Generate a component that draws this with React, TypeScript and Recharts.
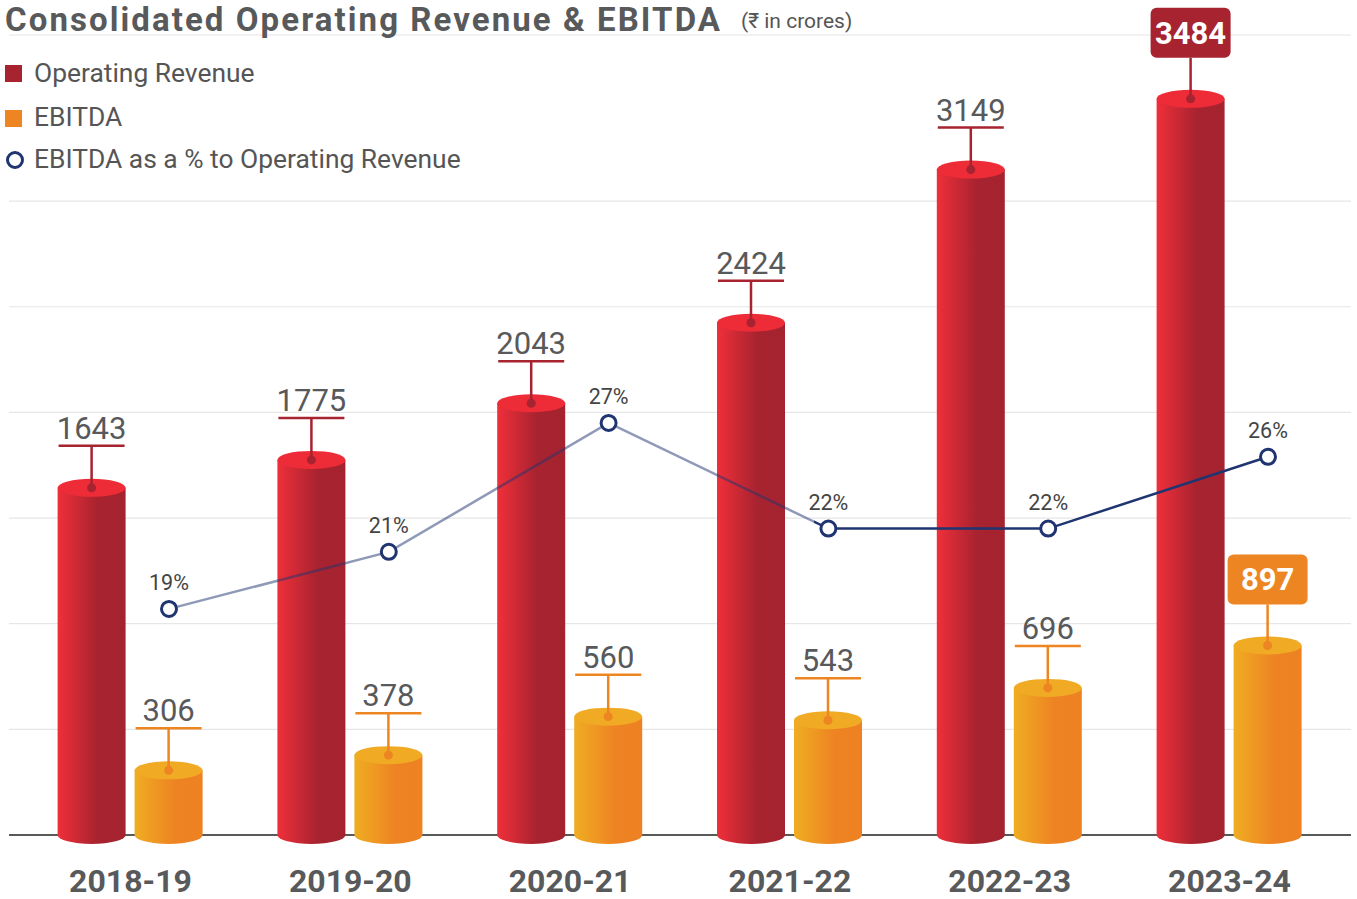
import React from 'react'
import {
  ComposedChart,
  Bar,
  Line,
  XAxis,
  YAxis,
  CartesianGrid,
  LabelList,
} from 'recharts'

const years = ['2018-19', '2019-20', '2020-21', '2021-22', '2022-23', '2023-24']
const revenue = [1643, 1775, 2043, 2424, 3149, 3484]
const ebitda = [306, 378, 560, 543, 696, 897]
const marginPct = [18.6, 21.3, 27.4, 22.4, 22.4, 25.8]
const marginLabels = ['19%', '21%', '27%', '22%', '22%', '26%']
const revenueTicks = [0, 500, 1000, 1500, 2000, 2500, 3000]

const data = years.map((year, i) => ({
  year,
  revenue: revenue[i],
  ebitda: ebitda[i],
  margin: marginPct[i],
  marginLabel: marginLabels[i],
}))

const FONT = 'Roboto, "Noto Sans", sans-serif'
const RED = '#a6232f'
const ORANGE = '#ee8523'
const NAVY = '#1f3470'
const TEXT = '#58595b'

// cylinder: body + rounded bottom + flat-colour top ellipse
const Cylinder = (props: any) => {
  const { x, y, width, height, gradId, topColor } = props
  if (!width || height == null) return null
  const rx = width / 2
  const ry = 9
  const bottom = y + height
  const d = `M${x},${y} L${x},${bottom} A${rx},${ry} 0 0 0 ${x + width},${bottom} L${x + width},${y} Z`
  return (
    <g>
      <path d={d} fill={`url(#${gradId})`} />
      <ellipse cx={x + rx} cy={y} rx={rx} ry={ry} fill={topColor} />
    </g>
  )
}

const makeValueLabel = (color: string, highlight: number) => (props: any) => {
  const { x, y, width, value } = props
  const cx = x + width / 2
  if (value === highlight) {
    return (
      <g>
        <line x1={cx} y1={y} x2={cx} y2={y - 41} stroke={color} strokeWidth={2.5} />
        <circle cx={cx} cy={y} r={4.5} fill={color} />
        <rect x={cx - 40} y={y - 91} width={80} height={50} rx={6} fill={color} />
        <text
          x={cx}
          y={y - 55}
          textAnchor="middle"
          fontFamily={FONT}
          fontWeight={700}
          fontSize={31}
          fill="#fff"
        >
          {value}
        </text>
      </g>
    )
  }
  return (
    <g>
      <line x1={cx} y1={y} x2={cx} y2={y - 42} stroke={color} strokeWidth={2.5} />
      <line x1={x + 1} y1={y - 42} x2={x + width - 1} y2={y - 42} stroke={color} strokeWidth={2.5} />
      <circle cx={cx} cy={y} r={4.5} fill={color} />
      <text
        x={cx}
        y={y - 49}
        textAnchor="middle"
        fontFamily={FONT}
        fontSize={31}
        fill={TEXT}
      >
        {value}
      </text>
    </g>
  )
}

const PctLabel = (props: any) => {
  const { x, y, value } = props
  return (
    <text x={x} y={y - 19} textAnchor="middle" fontFamily={FONT} fontSize={21.5} fill="#444">
      {value}
    </text>
  )
}

const YearTick = (props: any) => {
  const { x, y, payload } = props
  return (
    <text
      x={x}
      y={y + 55}
      textAnchor="middle"
      fontFamily={FONT}
      fontWeight={700}
      fontSize={32}
      fill={TEXT}
    >
      {payload.value}
    </text>
  )
}

// grid row at 0 doubles as the dark baseline, so the cylinders sit on top of it
const GridRow = (p: any) => {
  const base = p.y1 > 830
  return (
    <line
      x1={p.x1}
      y1={p.y1}
      x2={p.x2}
      y2={p.y2}
      stroke={base ? '#222' : '#e6e6e6'}
      strokeWidth={base ? 1.5 : 1.2}
    />
  )
}

export default function App() {
  return (
    <div style={{ position: 'absolute', left: 0, top: 0, width: 1357, height: 899, background: '#fff' }}>
      <ComposedChart
        width={1357}
        height={899}
        data={data}
        margin={{ top: 35, right: 6, bottom: 0, left: 9 }}
        barSize={68}
        barGap={9}
      >
        <defs>
          <linearGradient id="redGrad" x1="0" y1="0" x2="1" y2="0">
            <stop offset="0%" stopColor="#ef2f3a" />
            <stop offset="60%" stopColor="#a6232f" />
            <stop offset="100%" stopColor="#a5222f" />
          </linearGradient>
          <linearGradient id="orangeGrad" x1="0" y1="0" x2="1" y2="0">
            <stop offset="0%" stopColor="#efad22" />
            <stop offset="60%" stopColor="#ee8323" />
            <stop offset="100%" stopColor="#ee8223" />
          </linearGradient>
          <linearGradient id="lineGrad" gradientUnits="userSpaceOnUse" x1="0" y1="0" x2="1357" y2="0">
            <stop offset="0.6" stopColor={NAVY} stopOpacity={0.5} />
            <stop offset="0.6" stopColor={NAVY} stopOpacity={1} />
          </linearGradient>
        </defs>
        <CartesianGrid vertical={false} horizontal={(p: any) => <GridRow key={p.key ?? p.y1} {...p} />} />
        <XAxis
          dataKey="year"
          padding={{ left: 11.6, right: 11.6 }}
          axisLine={false}
          tickLine={false}
          tickSize={0}
          tick={<YearTick />}
          height={64}
          interval={0}
        />
        <XAxis xAxisId="pct" dataKey="year" hide padding={{ left: 50.1, right: -26.9 }} />
        <YAxis hide domain={[0, 3786]} ticks={revenueTicks} />
        <YAxis yAxisId="pct" hide orientation="right" domain={[7.9, 45.76]} />
        <Bar
          dataKey="revenue"
          isAnimationActive={false}
          shape={(p: any) => <Cylinder {...p} gradId="redGrad" topColor="#ee2c38" />}
        >
          <LabelList dataKey="revenue" content={makeValueLabel(RED, revenue[revenue.length - 1])} />
        </Bar>
        <Bar
          dataKey="ebitda"
          isAnimationActive={false}
          shape={(p: any) => <Cylinder {...p} gradId="orangeGrad" topColor="#f0aa23" />}
        >
          <LabelList dataKey="ebitda" content={makeValueLabel(ORANGE, ebitda[ebitda.length - 1])} />
        </Bar>
        <Line
          xAxisId="pct"
          yAxisId="pct"
          dataKey="margin"
          stroke="url(#lineGrad)"
          strokeWidth={2.5}
          dot={{ r: 7.5, stroke: NAVY, strokeWidth: 3, fill: '#fff', fillOpacity: 1 }}
          isAnimationActive={false}
        >
          <LabelList dataKey="marginLabel" content={<PctLabel />} />
        </Line>
      </ComposedChart>
      <svg width={1357} height={190} style={{ position: 'absolute', left: 0, top: 0 }}>
        <text
          x={5}
          y={31}
          fontFamily={FONT}
          fontWeight={700}
          fontSize={33}
          fill={TEXT}
          textLength={715}
          lengthAdjust="spacing"
        >
          Consolidated Operating Revenue &amp; EBITDA
        </text>
        <text x={741} y={28} fontFamily={FONT} fontSize={21} fill="#555">
          (₹ in crores)
        </text>
        <rect x={5} y={65} width={17} height={17} fill={RED} />
        <text x={34} y={82} fontFamily={FONT} fontSize={26.4} fill="#555">
          Operating Revenue
        </text>
        <rect x={5} y={110} width={17} height={17} fill={ORANGE} />
        <text x={34} y={126} fontFamily={FONT} fontSize={26.4} fill="#555">
          EBITDA
        </text>
        <circle cx={15} cy={160} r={7.5} fill="#fff" stroke={NAVY} strokeWidth={3} />
        <text x={34} y={168} fontFamily={FONT} fontSize={26.4} fill="#555">
          EBITDA as a % to Operating Revenue
        </text>
      </svg>
    </div>
  )
}
